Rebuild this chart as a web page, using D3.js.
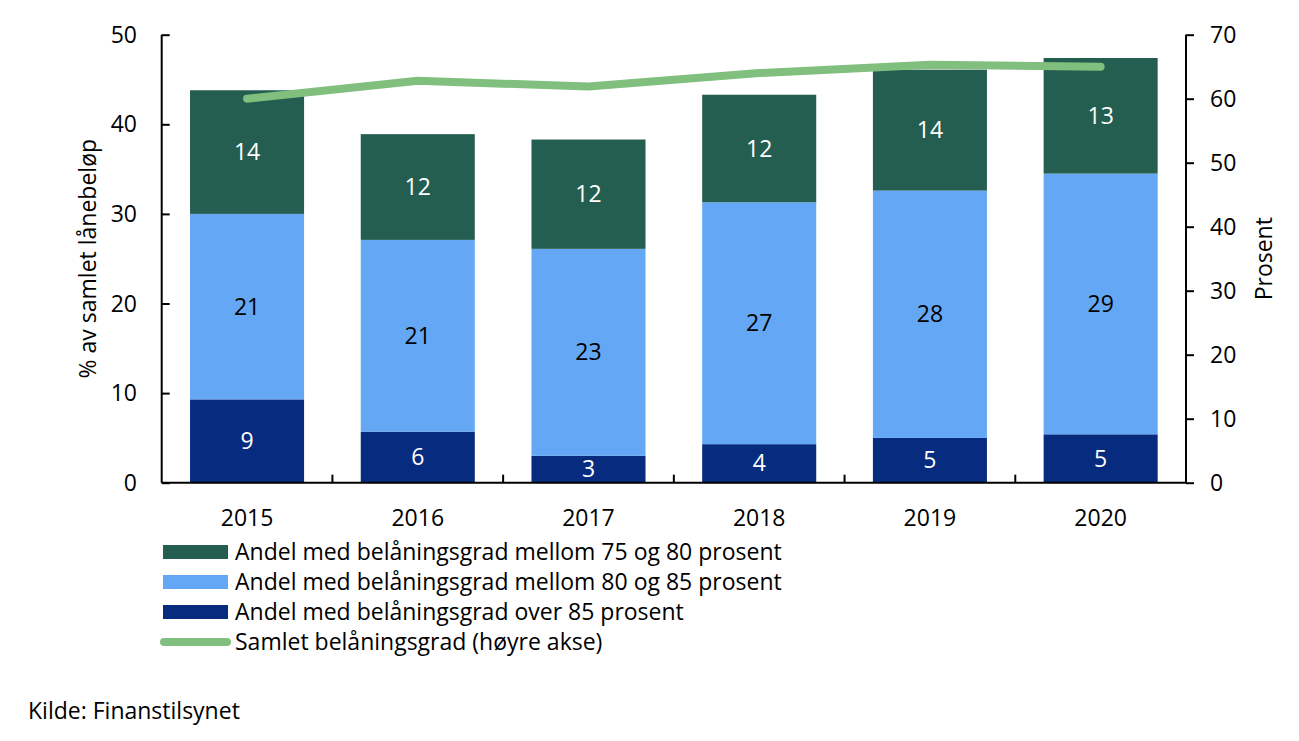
<!DOCTYPE html>
<html><head><meta charset="utf-8">
<script src="https://cdn.jsdelivr.net/npm/d3@7"></script>
<style>
body{margin:0;background:#fff;}
text{font-family:"Open Sans",sans-serif;}
</style></head>
<body><svg id="c" width="1299" height="741"></svg>
<script>
const years = ["2015","2016","2017","2018","2019","2020"];
const over85 = [9.3, 5.7, 3.0, 4.3, 5.0, 5.4];
const mid80to85 = [20.7, 21.4, 23.1, 27.0, 27.6, 29.1];
const mid75to80 = [13.8, 11.8, 12.2, 12.0, 13.5, 12.9];
const totalLtv = [60.0, 62.8, 61.9, 64.0, 65.3, 65.0];
const leftTicks = [0,10,20,30,40,50];
const rightTicks = [0,10,20,30,40,50,60,70];
const seriesNames = ["Andel med belåningsgrad mellom 75 og 80 prosent","Andel med belåningsgrad mellom 80 og 85 prosent","Andel med belåningsgrad over 85 prosent","Samlet belåningsgrad (høyre akse)"];
const colors = {over:"#072B7E", mid:"#64A8F5", low:"#245E51", line:"#80BF7E"};
const FS = 23;

const svg = d3.select("#c");
const L=161.7, R=1186, T=34.7, B=482.7;
const x = d3.scaleBand().domain(years).range([L,R]).padding(0);
const y = d3.scaleLinear().domain([0,50]).range([B,T]);
const y2 = d3.scaleLinear().domain([0,70]).range([B,T]);
const bw = x.bandwidth()*0.668;

const rows = years.map((yr,i)=>({yr, over:over85[i], mid:mid80to85[i], low:mid75to80[i]}));
const stack = d3.stack().keys(["over","mid","low"])(rows);
const fill = {over:colors.over, mid:colors.mid, low:colors.low};
const tcol = {over:"#fff", mid:"#000", low:"#fff"};

stack.forEach(s=>{
  const g = svg.append("g");
  g.selectAll("rect").data(s).enter().append("rect")
    .attr("x",d=>x(d.data.yr)+(x.bandwidth()-bw)/2)
    .attr("width",bw)
    .attr("y",d=>y(d[1]))
    .attr("height",d=>y(d[0])-y(d[1]))
    .attr("fill",fill[s.key]);
  g.selectAll("text").data(s).enter().append("text")
    .attr("x",d=>x(d.data.yr)+x.bandwidth()/2)
    .attr("y",d=>(y(d[0])+y(d[1]))/2)
    .attr("dy","0.35em")
    .attr("text-anchor","middle")
    .attr("font-size",FS)
    .attr("fill",tcol[s.key])
    .text(d=>Math.round(d.data[s.key]));
});

// line
const line = d3.line().x((d,i)=>x(years[i])+x.bandwidth()/2).y(d=>y2(d));
svg.append("path").datum(totalLtv).attr("d",line)
  .attr("fill","none").attr("stroke",colors.line).attr("stroke-width",8)
  .attr("stroke-linecap","round").attr("stroke-linejoin","round");

// axes
const axL = svg.append("g").attr("transform",`translate(${L},0)`)
  .call(d3.axisRight(y).tickValues(leftTicks).tickSize(8).tickFormat(d3.format("d")));
axL.select(".domain").remove();
axL.selectAll("text").remove();
svg.append("line").attr("x1",L).attr("x2",L).attr("y1",T).attr("y2",B).attr("stroke","#000").attr("stroke-width",2);
svg.append("g").selectAll("text").data(leftTicks).enter().append("text")
  .attr("x",137).attr("y",d=>y(d)).attr("dy","0.35em").attr("text-anchor","end")
  .attr("font-size",FS).text(d=>d);

const axR = svg.append("g").attr("transform",`translate(${R},0)`)
  .call(d3.axisRight(y2).tickValues(rightTicks).tickSize(8).tickPadding(16).tickFormat(d3.format("d")));
axR.select(".domain").remove();
axR.selectAll("text").attr("font-size",FS).attr("font-family","Open Sans").attr("fill","#000");
svg.append("line").attr("x1",R).attr("x2",R).attr("y1",T).attr("y2",B).attr("stroke","#000").attr("stroke-width",2);
svg.selectAll(".tick line").attr("stroke","#000").attr("stroke-width",2);

// x axis
svg.append("line").attr("x1",L).attr("x2",R).attr("y1",B).attr("y2",B).attr("stroke","#000").attr("stroke-width",2);
svg.append("g").selectAll("line").data(years.slice(1)).enter().append("line")
  .attr("x1",d=>x(d)).attr("x2",d=>x(d)).attr("y1",B).attr("y2",B-8)
  .attr("stroke","#000").attr("stroke-width",2);
svg.append("g").selectAll("text").data(years).enter().append("text")
  .attr("x",d=>x(d)+x.bandwidth()/2).attr("y",518).attr("dy","0.35em")
  .attr("text-anchor","middle").attr("font-size",FS).text(d=>d);

// axis titles
svg.append("text").attr("transform",`translate(88,${(T+B)/2}) rotate(-90)`)
  .attr("text-anchor","middle").attr("dy","0.35em").attr("font-size",FS).text("% av samlet lånebeløp");
svg.append("text").attr("transform",`translate(1264,${(T+B)/2}) rotate(-90)`)
  .attr("text-anchor","middle").attr("dy","0.35em").attr("font-size",FS).text("Prosent");

// legend
const legY = [552, 582, 612, 642];
const legColors = [colors.low, colors.mid, colors.over];
legColors.forEach((c,i)=>{
  svg.append("rect").attr("x",163).attr("y",legY[i]-7).attr("width",65).attr("height",14).attr("fill",c);
});
svg.append("line").attr("x1",164).attr("x2",227).attr("y1",legY[3]).attr("y2",legY[3])
  .attr("stroke",colors.line).attr("stroke-width",8).attr("stroke-linecap","round");
seriesNames.forEach((n,i)=>{
  svg.append("text").attr("x",235).attr("y",legY[i]).attr("dy","0.35em").attr("font-size",FS).text(n);
});

svg.append("text").attr("x",28).attr("y",711).attr("dy","0.35em").attr("font-size",FS).text("Kilde: Finanstilsynet");
</script></body></html>
